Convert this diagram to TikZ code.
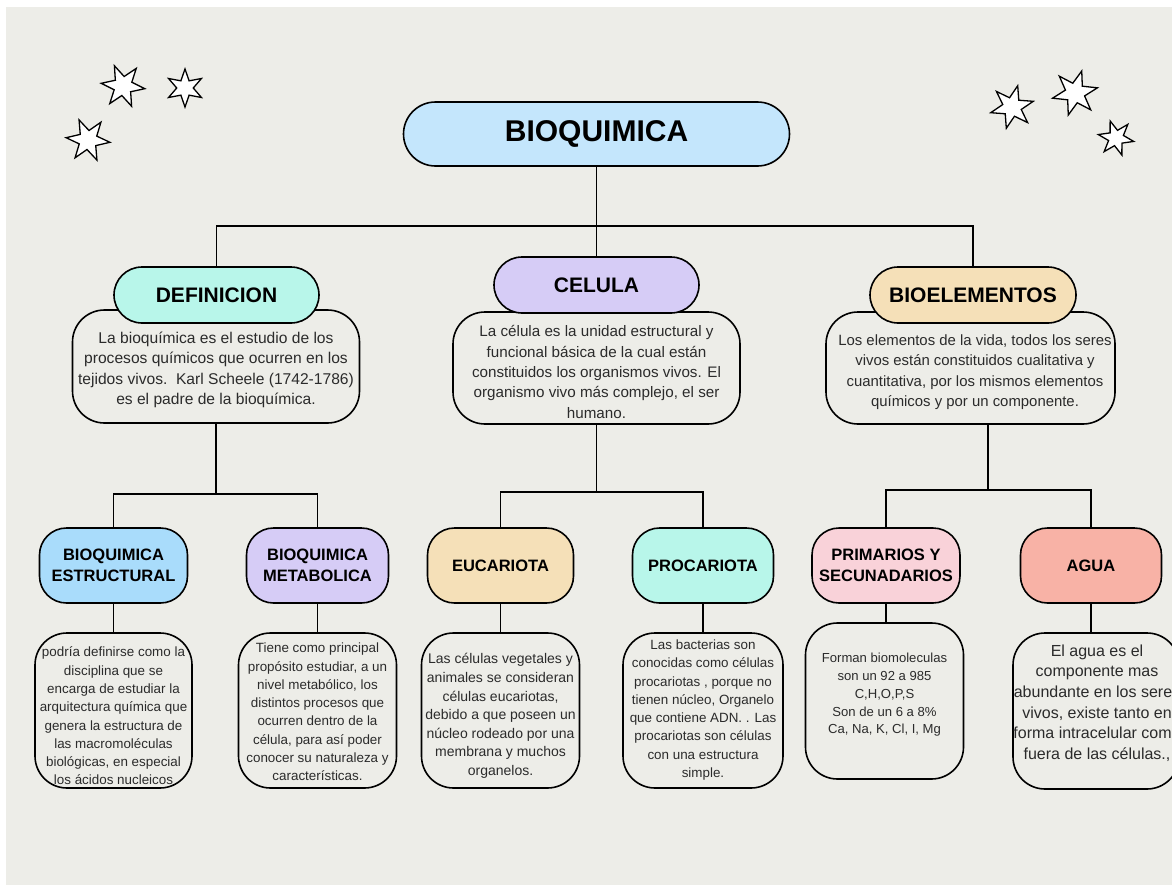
\documentclass[tikz,border=0pt]{standalone}
\usepackage{fontspec}
\setmainfont{Liberation Sans}
\usetikzlibrary{shapes.geometric,shapes.misc}
\definecolor{bg}{HTML}{EDEDE8}
\definecolor{cTop}{HTML}{C4E6FC}
\definecolor{cMint}{HTML}{B8F6EA}
\definecolor{cLav}{HTML}{D6CCF6}
\definecolor{cTan}{HTML}{F5E0B8}
\definecolor{cBlue}{HTML}{A9DCFB}
\definecolor{cPink}{HTML}{F9D2D9}
\definecolor{cSalmon}{HTML}{F8B2A6}
\definecolor{txt}{HTML}{2B2B2B}
\begin{document}
\begin{tikzpicture}[x=1pt,y=-1pt,
  conn/.style={line width=1.9pt, draw=black},
  pill/.style={rounded rectangle, draw=black, line width=1.6pt, inner sep=0pt, minimum height=56pt,
    text=black, font=\bfseries\fontsize{21}{24}\selectfont},
  subhead/.style={rectangle, rounded corners=27pt, draw=black, line width=1.6pt, inner sep=0pt,
    minimum height=75pt, align=center, text=black, font=\bfseries\fontsize{16.5}{21}\selectfont},
  descbox/.style={rectangle, rounded corners=32pt, draw=black, line width=1.6pt, fill=bg, inner sep=0pt},
  bigtxt/.style={align=center, inner sep=0pt, text=txt, font=\fontsize{15.6}{20.5}\selectfont},
  smalltxt/.style={align=center, inner sep=0pt, text=txt, font=\fontsize{13.4}{18.3}\selectfont},
  deco/.style={star, star points=6, star point ratio=2.3, draw=black, line width=1.3pt, fill=white, inner sep=0pt}
]
\useasboundingbox (0,0) rectangle (1172,886);
\clip (0,0) rectangle (1172,886);
\fill[white] (0,0) rectangle (1172,886);
\fill[bg] (6,7) rectangle (1172,885);

% stars
\node[deco, minimum size=44pt, rotate=23] (s1) at (123,86) {};
\node[deco, minimum size=38pt, rotate=0] (s2) at (185,88) {};
\node[deco, minimum size=44pt, rotate=24] (s3) at (88,140) {};
\node[deco, minimum size=44pt, rotate=-15] (s4) at (1012,107) {};
\node[deco, minimum size=46pt, rotate=-17] (s5) at (1075,93) {};
\node[deco, minimum size=36pt, rotate=19] (s6) at (1116,138) {};

% junction coordinates
\coordinate (jt) at (596.5,226);
\coordinate (hl) at (216,494);
\coordinate (hm) at (596.5,492);
\coordinate (hr) at (988,490);

% description boxes (drawn first, headers overlap them)
\node[descbox, minimum width=287pt, minimum height=113pt] (defd) at (216,366.5) {};
\node[descbox, minimum width=287pt, minimum height=112pt] (celd) at (596.5,368) {};
\node[descbox, minimum width=289pt, minimum height=112pt] (biod) at (970.5,368) {};

\node[descbox, minimum width=157pt, minimum height=155pt] (bed) at (113.5,710.5) {};
\node[descbox, minimum width=158pt, minimum height=155pt] (bmd) at (317.5,710.5) {};
\node[descbox, minimum width=158pt, minimum height=155pt] (eud) at (500.5,710.5) {};
\node[descbox, minimum width=160pt, minimum height=155pt] (prd) at (703,710.5) {};
\node[descbox, minimum width=158pt, minimum height=156pt] (psd) at (884.5,701) {};
\node[descbox, minimum width=166pt, minimum height=156pt] (agd) at (1096,711) {};

% headers
\node[pill, fill=cTop, minimum width=386pt, minimum height=64pt,
  font=\bfseries\fontsize{30}{34}\selectfont] (top) at (596.5,134) {BIOQUIMICA};
\node[pill, fill=cMint, minimum width=205pt] (def) at (216.5,295) {DEFINICION};
\node[pill, fill=cLav, minimum width=205pt] (cel) at (596.5,285) {CELULA};
\node[pill, fill=cTan, minimum width=206pt] (bio) at (973,295) {BIOELEMENTOS};

\node[subhead, fill=cBlue, minimum width=148pt] (be) at (113.5,565.5) {BIOQUIMICA\\ESTRUCTURAL};
\node[subhead, fill=cLav, minimum width=142pt] (bm) at (317.5,565.5) {BIOQUIMICA\\METABOLICA};
\node[subhead, fill=cTan, minimum width=146pt] (eu) at (500.5,565.5) {EUCARIOTA};
\node[subhead, fill=cMint, minimum width=141pt] (pr) at (703,565.5) {PROCARIOTA};
\node[subhead, fill=cPink, minimum width=148pt] (ps) at (886,565.5) {PRIMARIOS Y\\SECUNADARIOS};
\node[subhead, fill=cSalmon, minimum width=141pt] (ag) at (1091,565.5) {AGUA};

% connectors
\draw[conn] (top.south) -- (cel.north);
\draw[conn] (def.north) -- (def.north |- jt) -- (bio.north |- jt) -- (bio.north);
\draw[conn] (defd.south) -- (defd.south |- hl);
\draw[conn] (be.north) -- (be.north |- hl) -- (bm.north |- hl) -- (bm.north);
\draw[conn] (celd.south) -- (celd.south |- hm);
\draw[conn] (eu.north) -- (eu.north |- hm) -- (pr.north |- hm) -- (pr.north);
\draw[conn] (hr |- biod.south) -- (hr);
\draw[conn] (ps.north) -- (ps.north |- hr) -- (ag.north |- hr) -- (ag.north);
\draw[conn] (be.south) -- (be.south |- bed.north);
\draw[conn] (bm.south) -- (bm.south |- bmd.north);
\draw[conn] (eu.south) -- (eu.south |- eud.north);
\draw[conn] (pr.south) -- (pr.south |- prd.north);
\draw[conn] (ps.south) -- (ps.south |- psd.north);
\draw[conn] (ag.south) -- (ag.south |- agd.north);

% texts
\node[bigtxt] (deft) at (216,370) {La bioquímica es el estudio de los\\procesos químicos que ocurren en los\\tejidos vivos.\ \ Karl Scheele (1742-1786)\\es el padre de la bioquímica.};
\node[bigtxt, font=\fontsize{15.2}{20.3}\selectfont] (celt) at (596.5,372) {La célula es la unidad estructural y\\funcional básica de la cual están\\constituidos los organismos vivos. El\\organismo vivo más complejo, el ser\\humano.};
\node[bigtxt, font=\fontsize{14.9}{20.3}\selectfont] (biot) at (975,372) {Los elementos de la vida, todos los seres\\vivos están constituidos cualitativa y\\cuantitativa, por los mismos elementos\\químicos y por un componente.};

\node[smalltxt] (bet) at (113.5,716) {podría definirse como la\\disciplina que se\\encarga de estudiar la\\arquitectura química que\\genera la estructura de\\las macromoléculas\\biológicas, en especial\\los ácidos nucleicos};
\node[smalltxt] (bmt) at (317.5,712) {Tiene como principal\\propósito estudiar, a un\\nivel metabólico, los\\distintos procesos que\\ocurren dentro de la\\célula, para así poder\\conocer su naturaleza y\\características.};
\node[smalltxt, font=\fontsize{14}{18.6}\selectfont] (eut) at (500.5,716) {Las células vegetales y\\animales se consideran\\células eucariotas,\\debido a que poseen un\\núcleo rodeado por una\\membrana y muchos\\organelos.};
\node[smalltxt] (prt) at (703,710) {Las bacterias son\\conocidas como células\\procariotas , porque no\\tienen núcleo, Organelo\\que contiene ADN. . Las\\procariotas son células\\con una estructura\\simple.};
\node[smalltxt, font=\fontsize{13.1}{17.8}\selectfont] (pst) at (884.5,695) {Forman biomoleculas\\son un 92 a 985\\C,H,O,P,S\\Son de un 6 a 8\%\\Ca, Na, K, Cl, I, Mg};
\node[bigtxt, font=\fontsize{16}{20.7}\selectfont] (agt) at (1097,703) {El agua es el\\componente mas\\abundante en los seres\\vivos, existe tanto en\\forma intracelular como\\fuera de las células.,};
\end{tikzpicture}
\end{document}
